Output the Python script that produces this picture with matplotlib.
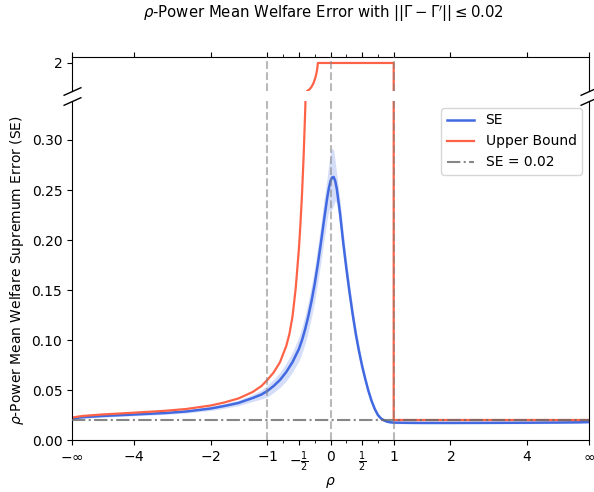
import numpy as np
import matplotlib
matplotlib.use("Agg")
import matplotlib.pyplot as plt
from matplotlib.ticker import FixedLocator, FormatStrFormatter

# rho = +/- INF stands for the two ends of the axis
INF = 1e4

rho_se = [-INF, -20, -10, -6, -4, -3, -2.5, -2, -1.75, -1.5,
          -1.25, -1.1, -1, -0.9, -0.8, -0.7, -0.6, -0.5, -0.45, -0.4,
          -0.35, -0.3, -0.25, -0.2, -0.15, -0.1, -0.05, -0.025, 0, 0.025,
          0.05, 0.075, 0.1, 0.15, 0.2, 0.25, 0.3, 0.35, 0.4, 0.45,
          0.5, 0.55, 0.6, 0.65, 0.7, 0.75, 0.8, 0.85, 0.9, 0.95,
          1, 1.25, 1.5, 2, 3, 4, 6, 10, 20, INF]
se = [0.021, 0.0218, 0.0228, 0.024, 0.0255, 0.027, 0.0285, 0.0315, 0.034, 0.037,
      0.042, 0.0455, 0.049, 0.054, 0.060, 0.068, 0.078, 0.091, 0.100, 0.111,
      0.124, 0.139, 0.156, 0.176, 0.198, 0.221, 0.243, 0.252, 0.259, 0.2625,
      0.263, 0.259, 0.251, 0.227, 0.198, 0.172, 0.148, 0.126, 0.106, 0.089,
      0.074, 0.061, 0.049, 0.039, 0.031, 0.025, 0.0215, 0.0195, 0.0183, 0.0177,
      0.0174, 0.0172, 0.0171, 0.0171, 0.0172, 0.0173, 0.0175, 0.0177, 0.0179, 0.018]
se_lo = [0.020, 0.0208, 0.0217, 0.0228, 0.0242, 0.0256, 0.027, 0.0295, 0.0317, 0.0343,
         0.0385, 0.0410, 0.043, 0.0475, 0.0525, 0.059, 0.068, 0.079, 0.087, 0.097,
         0.109, 0.123, 0.139, 0.158, 0.179, 0.201, 0.222, 0.230, 0.229, 0.231,
         0.235, 0.239, 0.237, 0.214, 0.187, 0.162, 0.139, 0.118, 0.099, 0.083,
         0.069, 0.057, 0.0455, 0.036, 0.0285, 0.023, 0.020, 0.0183, 0.0172, 0.0167,
         0.0164, 0.0162, 0.0161, 0.0161, 0.0162, 0.0163, 0.0165, 0.0167, 0.0169, 0.017]
se_hi = [0.022, 0.0228, 0.0239, 0.0252, 0.0268, 0.0284, 0.030, 0.0335, 0.0363, 0.0397,
         0.0455, 0.0500, 0.055, 0.0605, 0.0675, 0.077, 0.088, 0.103, 0.113, 0.125,
         0.139, 0.155, 0.173, 0.194, 0.217, 0.241, 0.264, 0.277, 0.288, 0.292,
         0.290, 0.278, 0.265, 0.240, 0.209, 0.182, 0.157, 0.134, 0.113, 0.095,
         0.079, 0.065, 0.0525, 0.042, 0.0335, 0.027, 0.023, 0.0207, 0.0194, 0.0187,
         0.0184, 0.0182, 0.0181, 0.0181, 0.0182, 0.0183, 0.0185, 0.0187, 0.0189, 0.019]

rho_ub = [-INF, -20, -10, -6, -4, -3, -2.5, -2, -1.75, -1.5,
          -1.25, -1.1, -1, -0.9, -0.8, -0.7, -0.65, -0.6, -0.55, -0.5,
          -0.475, -0.45, -0.425, -0.4, -0.385, -0.37, -0.35, -0.33, -0.3, -0.27,
          -0.25, -0.235, -0.22, -0.21, -0.2, 1, 1, INF]
ub = [0.022, 0.0228, 0.024, 0.0255, 0.0273, 0.0292, 0.031, 0.0345, 0.0375, 0.0415,
      0.048, 0.054, 0.060, 0.0675, 0.0777, 0.094, 0.106, 0.124, 0.152, 0.191,
      0.2165, 0.247, 0.284, 0.330, 0.364, 1.53, 1.545, 1.56, 1.60, 1.66,
      1.72, 1.77, 1.84, 1.90, 2.0, 2.0, 0.02, 0.02]

se_target = 0.02
vlines = [-1, 0, 1]

xticks = [-INF, -4, -2, -1, -0.5, 0, 0.5, 1, 2, 4, INF]
xticklabels = [r'$-\infty$', r'$-4$', r'$-2$', r'$-1$', r'$-\frac{1}{2}$', r'$0$',
               r'$\frac{1}{2}$', r'$1$', r'$2$', r'$4$', r'$\infty$']
xminor = [-0.75, -0.25, 0.25, 0.75]

# axis squashing: linear on [-1, 1], |rho| > 1 squeezed into a finite band
A, B, Q = 3.09, 13.01, 2.13


def fwd(x):
    x = np.asarray(x, float)
    ax_ = np.abs(x)
    y = np.clip(ax_ - 1, 0, None)
    g = A * y / (y ** Q + B) ** (1 / Q)
    return np.where(ax_ <= 1, x, np.sign(x) * (1 + g))


def inv(u):
    u = np.asarray(u, float)
    au = np.abs(u)
    t = np.clip((au - 1) / A, 0, 1 - 1e-9)
    y = B ** (1 / Q) * t / (1 - t ** Q) ** (1 / Q)
    return np.where(au <= 1, u, np.sign(u) * (1 + y))


fig = plt.figure(figsize=(5.94, 4.92), dpi=100)
ax_top = fig.add_axes([72 / 594, 1 - 91 / 492, 517 / 594, 34 / 492])
ax_bot = fig.add_axes([72 / 594, 1 - 440 / 492, 517 / 594, 339 / 492], sharex=ax_top)

for ax in (ax_top, ax_bot):
    ax.set_xscale('function', functions=(fwd, inv))
    ax.fill_between(rho_se, se_lo, se_hi, color='royalblue', alpha=0.22, lw=0)
    ax.plot(rho_se, se, color='royalblue', lw=1.8, label='SE')
    ax.plot(rho_ub, ub, color='tomato', lw=1.6, label='Upper Bound')
    for v in vlines:
        ax.axvline(v, color='gray', ls='--', lw=1.5, alpha=0.55, zorder=3)
    ax.axhline(se_target, color='dimgray', ls='-.', lw=1.5, alpha=0.8, zorder=3,
               label=f'SE = {se_target}')

ax_bot.set_xlim(-INF, INF)
ax_top.set_ylim(1.53, 2.1)
ax_bot.set_ylim(0, 0.339)

ax_top.set_yticks([2])
ax_bot.set_yticks(np.arange(0, 0.31, 0.05))
ax_bot.yaxis.set_major_formatter(FormatStrFormatter('%.2f'))

ax_bot.xaxis.set_major_locator(FixedLocator(xticks))
ax_bot.set_xticklabels(xticklabels)
ax_bot.xaxis.set_minor_locator(FixedLocator(xminor))

ax_top.spines['bottom'].set_visible(False)
ax_bot.spines['top'].set_visible(False)
ax_top.tick_params(axis='x', which='both', bottom=False, top=True,
                   labelbottom=False, labeltop=False)
ax_bot.tick_params(axis='x', which='both', top=False)

# break marks
d = 0.45
kw = dict(marker=[(-1, -d), (1, d)], markersize=13, linestyle='none',
          color='k', mec='k', mew=1, clip_on=False)
ax_top.plot([0, 1], [0, 0], transform=ax_top.transAxes, **kw)
ax_bot.plot([0, 1], [1, 1], transform=ax_bot.transAxes, **kw)

ax_bot.legend(loc='upper right')
ax_bot.set_xlabel(r'$\rho$', labelpad=0.5)
ax_bot.set_ylabel(r'$\rho$-Power Mean Welfare Supremum Error (SE)')
fig.text(323 / 594, 1 - 14 / 492,
         r"$\rho$-Power Mean Welfare Error with $||\Gamma - \Gamma'|| \leq 0.02$",
         ha='center', va='center', fontsize=10.7)

fig.savefig('out.png', dpi=100)
